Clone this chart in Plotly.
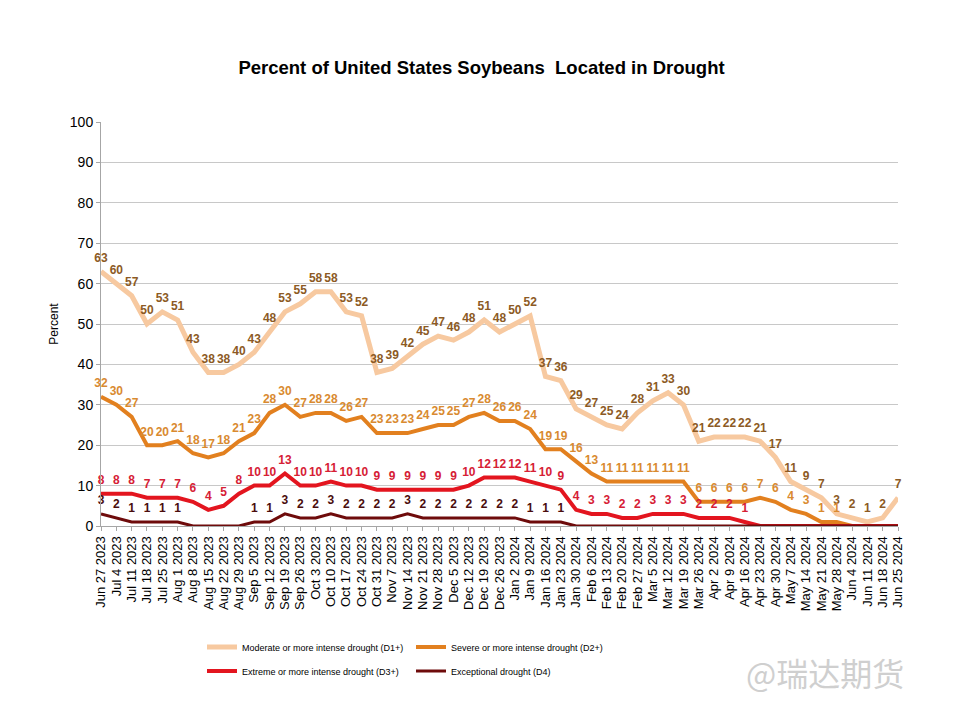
import plotly.graph_objects as go

dates = ["Jun 27 2023", "Jul 4 2023", "Jul 11 2023", "Jul 18 2023", "Jul 25 2023", "Aug 1 2023",
         "Aug 8 2023", "Aug 15 2023", "Aug 22 2023", "Aug 29 2023", "Sep 5 2023", "Sep 12 2023",
         "Sep 19 2023", "Sep 26 2023", "Oct 3 2023", "Oct 10 2023", "Oct 17 2023", "Oct 24 2023",
         "Oct 31 2023", "Nov 7 2023", "Nov 14 2023", "Nov 21 2023", "Nov 28 2023", "Dec 5 2023",
         "Dec 12 2023", "Dec 19 2023", "Dec 26 2023", "Jan 2 2024", "Jan 9 2024", "Jan 16 2024",
         "Jan 23 2024", "Jan 30 2024", "Feb 6 2024", "Feb 13 2024", "Feb 20 2024", "Feb 27 2024",
         "Mar 5 2024", "Mar 12 2024", "Mar 19 2024", "Mar 26 2024", "Apr 2 2024", "Apr 9 2024",
         "Apr 16 2024", "Apr 23 2024", "Apr 30 2024", "May 7 2024", "May 14 2024", "May 21 2024",
         "May 28 2024", "Jun 4 2024", "Jun 11 2024", "Jun 18 2024", "Jun 25 2024"]

d1 = [63, 60, 57, 50, 53, 51, 43, 38, 38, 40, 43, 48, 53, 55, 58, 58, 53, 52, 38, 39,
      42, 45, 47, 46, 48, 51, 48, 50, 52, 37, 36, 29, 27, 25, 24, 28, 31, 33, 30, 21,
      22, 22, 22, 21, 17, 11, 9, 7, 3, 2, 1, 2, 7]
d2 = [32, 30, 27, 20, 20, 21, 18, 17, 18, 21, 23, 28, 30, 27, 28, 28, 26, 27, 23, 23,
      23, 24, 25, 25, 27, 28, 26, 26, 24, 19, 19, 16, 13, 11, 11, 11, 11, 11, 11, 6,
      6, 6, 6, 7, 6, 4, 3, 1, 1, 0, 0, 0, 0]
d3 = [8, 8, 8, 7, 7, 7, 6, 4, 5, 8, 10, 10, 13, 10, 10, 11, 10, 10, 9, 9,
      9, 9, 9, 9, 10, 12, 12, 12, 11, 10, 9, 4, 3, 3, 2, 2, 3, 3, 3, 2,
      2, 2, 1, 0, 0, 0, 0, 0, 0, 0, 0, 0, 0]
d4 = [3, 2, 1, 1, 1, 1, 0, 0, 0, 0, 1, 1, 3, 2, 2, 3, 2, 2, 2, 2,
      3, 2, 2, 2, 2, 2, 2, 2, 1, 1, 1, 0, 0, 0, 0, 0, 0, 0, 0, 0,
      0, 0, 0, 0, 0, 0, 0, 0, 0, 0, 0, 0, 0]

series = [
    ("Moderate or more intense drought (D1+)", d1, "#f7c9a0", "#8c5a24", 5, "legend"),
    ("Severe or more intense drought (D2+)", d2, "#e2801f", "#d98a30", 4, "legend"),
    ("Extreme or more intense drought (D3+)", d3, "#e3151f", "#d62035", 4, "legend2"),
    ("Exceptional drought (D4)", d4, "#6e0b0b", "#4a0d0d", 3, "legend2"),
]

W, H = 947, 711
OFF = 8  # page offset of the figure
L, T, B, R = 101 - OFF, 122 - OFF, 193, 57
PW = 898 - 101
PH = 526 - 122


def py(pix):
    return (526 - pix) / PH


def px(pix):
    return (pix - 101) / PW


x = list(range(len(dates)))
fig = go.Figure()
for name, vals, lc, tc, w, lg in series:
    fig.add_trace(go.Scatter(
        x=x, y=vals, name=name, mode="lines+markers+text",
        line=dict(color=lc, width=w),
        marker=dict(size=9, color="rgba(0,0,0,0)"),
        text=[str(v) if v > 0 else "" for v in vals],
        textposition="top center",
        textfont=dict(family="Arial", size=12, color=tc, weight="bold"),
        legend=lg, cliponaxis=False, hoverinfo="skip",
    ))

legend_font = dict(family="Arial", size=9, color="black")
fig.update_layout(
    width=W, height=H,
    paper_bgcolor="white", plot_bgcolor="white",
    margin=dict(l=L, r=R, t=T, b=B),
    title=dict(text="<b>Percent of United States Soybeans  Located in Drought</b>",
               x=0.5, xanchor="center", y=1 - (68 - OFF) / H, yanchor="middle",
               font=dict(family="Arial", size=18.5, color="black")),
    xaxis=dict(range=[0, 52], tickmode="array", tickvals=x, ticktext=dates,
               tickangle=-90, tickfont=dict(family="Arial", size=13, color="black"),
               showgrid=False, showline=True, linecolor="#a6a6a6", linewidth=1,
               ticks="outside", ticklen=4, tickcolor="#a6a6a6", zeroline=False),
    yaxis=dict(range=[0, 100], dtick=10, tickfont=dict(family="Arial", size=14, color="black"),
               showgrid=True, gridcolor="#c8c8c8", gridwidth=1,
               showline=True, linecolor="#a6a6a6", linewidth=1,
               ticks="outside", ticklen=4, tickcolor="#a6a6a6", zeroline=False,
               title=dict(text="Percent", font=dict(family="Arial", size=12, color="black"),
                          standoff=8)),
    legend=dict(orientation="h", x=px(202), xanchor="left", y=py(647),
                yanchor="middle", entrywidth=164, itemwidth=30,
                font=legend_font, bgcolor="rgba(0,0,0,0)"),
    legend2=dict(orientation="h", x=px(202), xanchor="left", y=py(671),
                 yanchor="middle", entrywidth=164, itemwidth=30,
                 font=legend_font, bgcolor="rgba(0,0,0,0)"),
    showlegend=True,
)

fig.add_annotation(text="@瑞达期货", xref="paper", yref="paper",
                   x=px(906), y=py(672), xanchor="right", yanchor="middle",
                   showarrow=False,
                   font=dict(family="Noto Sans CJK SC", size=32, color="#cfcfcf"))

fig.write_html("out.html")
